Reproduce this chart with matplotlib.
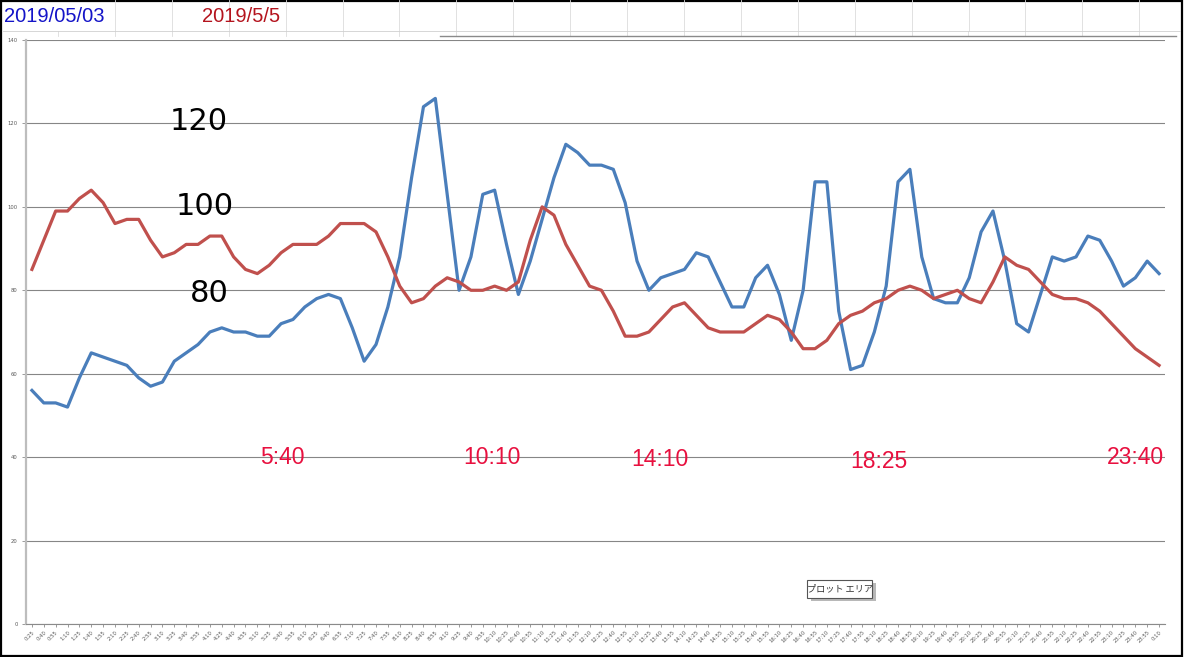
import matplotlib
matplotlib.use("Agg")
import matplotlib.pyplot as plt
from matplotlib.patches import Rectangle
from matplotlib.lines import Line2D

# readings every 15 minutes, starting 0:25
start_min = 25
step_min = 15

blue_0503 = [56, 53, 53, 52, 59, 65, 64, 63, 62, 59, 57, 58, 63, 65, 67, 70,
             71, 70, 70, 69, 69, 72, 73, 76, 78, 79, 78, 71, 63, 67, 76, 88,
             107, 124, 126, 103, 80, 88, 103, 104, 91, 79, 87, 97, 107, 115, 113, 110,
             110, 109, 101, 87, 80, 83, 84, 85, 89, 88, 82, 76, 76, 83, 86, 79,
             68, 80, 106, 106, 75, 61, 62, 70, 81, 106, 109, 88, 78, 77, 77, 83,
             94, 99, 87, 72, 70, 79, 88, 87, 88, 93, 92, 87, 81, 83, 87, 84]

red_0505 = [85, 92, 99, 99, 102, 104, 101, 96, 97, 97, 92, 88, 89, 91, 91, 93,
            93, 88, 85, 84, 86, 89, 91, 91, 91, 93, 96, 96, 96, 94, 88, 81,
            77, 78, 81, 83, 82, 80, 80, 81, 80, 82, 92, 100, 98, 91, 86, 81,
            80, 75, 69, 69, 70, 73, 76, 77, 74, 71, 70, 70, 70, 72, 74, 73,
            70, 66, 66, 68, 72, 74, 75, 77, 78, 80, 81, 80, 78, 79, 80, 78,
            77, 82, 88, 86, 85, 82, 79, 78, 78, 77, 75, 72, 69, 66, 64, 62]

time_labels = [f"{(m // 60) % 24}:{m % 60:02d}"
               for m in range(start_min, start_min + step_min * len(blue_0503), step_min)]

y_ticks = [0, 20, 40, 60, 80, 100, 120, 140]
level_notes = ["120", "100", "80"]
time_notes = ["5:40", "10:10", "14:10", "18:25", "23:40"]
header_dates = ["2019/05/03", "2019/5/5"]

W, H = 1184, 657


def fx(x):
    return x / W


def fy(y):
    return 1 - y / H


fig = plt.figure(figsize=(W / 100, H / 100), dpi=100)
fig.patch.set_facecolor("white")

# spreadsheet header strip
for k in range(19):
    x = 115 + 56.9 * k
    fig.add_artist(Line2D([fx(x), fx(x)], [fy(0), fy(31)], color="#dcdcdc", lw=0.6))
for k in range(20):
    x = 58 + 56.9 * k
    fig.add_artist(Line2D([fx(x), fx(x)], [fy(31), fy(36)], color="#dcdcdc", lw=0.6))
fig.add_artist(Line2D([fx(3), fx(1180)], [fy(31), fy(31)], color="#d0d0d0", lw=0.6))
fig.add_artist(Line2D([fx(440), fx(1176)], [fy(36), fy(36)], color="#8a8a8a", lw=1.0))

fig.text(fx(4), fy(16), header_dates[0], color="#1414c8", fontsize=14.5,
         family="Liberation Sans", va="center", ha="left")
fig.text(fx(202), fy(16), header_dates[1], color="#b4141e", fontsize=14.5,
         family="Liberation Sans", va="center", ha="left")

ax = fig.add_axes([fx(26), fy(624), (1165 - 26) / W, (624 - 40) / H])
x = range(len(blue_0503))
ax.plot(x, blue_0503, color="#4a7ebb", lw=2.3, solid_joinstyle="round", zorder=3)
ax.plot(x, red_0505, color="#c0504d", lw=2.3, solid_joinstyle="round", zorder=3)

ax.set_xlim(-0.5, len(blue_0503) - 0.5)
ax.set_ylim(0, 140)
ax.set_yticks(y_ticks)
ax.set_yticklabels([str(v) for v in y_ticks])
ax.set_xticks(list(x))
ax.set_xticklabels(time_labels, rotation=45, ha="right", rotation_mode="anchor")
ax.tick_params(axis="x", labelsize=3.8, labelcolor="#595959", length=2.5,
               width=0.6, color="#8a8a8a", pad=1.5)
ax.tick_params(axis="y", labelsize=3.8, labelcolor="#595959", length=3,
               width=0.6, color="#8a8a8a", pad=3)
ax.grid(axis="y", color="#868686", lw=0.8)
ax.set_axisbelow(True)
for side in ["top", "right"]:
    ax.spines[side].set_visible(False)
ax.spines["left"].set_color("#bdbdbd")
ax.spines["left"].set_linewidth(1.6)
ax.spines["bottom"].set_color("#8a8a8a")
ax.spines["bottom"].set_linewidth(0.8)

# hand-written notes on the chart
for txt, (px, py) in zip(level_notes, [(199, 121), (205, 207), (209, 293)]):
    fig.text(fx(px), fy(py), txt, fontsize=22, color="black", ha="center", va="center",
             family="DejaVu Sans")
for txt, (px, py) in zip(time_notes, [(282, 458), (492, 458), (660, 459), (879, 462), (1135, 458)]):
    fig.text(fx(px), fy(py), txt, fontsize=16.5, color="#e8103f", ha="center", va="center",
             family="Liberation Sans")

# tooltip
fig.add_artist(Rectangle((fx(811), fy(601)), 65 / W, 18 / H, transform=fig.transFigure,
                         facecolor="#b8b8b8", edgecolor="none", zorder=5))
fig.add_artist(Rectangle((fx(807), fy(598)), 65 / W, 18 / H, transform=fig.transFigure,
                         facecolor="white", edgecolor="#555555", lw=0.8, zorder=6))
fig.text(fx(839.5), fy(589), "プロット エリア", fontsize=6.6, color="#333333",
         ha="center", va="center", zorder=7,
         family=["Noto Sans CJK JP", "DejaVu Sans"])

# outer frame
fig.add_artist(Rectangle((0.001, 0.002), 0.997, 0.996, transform=fig.transFigure,
                         facecolor="none", edgecolor="black", lw=1.6))

fig.savefig("out.png", dpi=100)
